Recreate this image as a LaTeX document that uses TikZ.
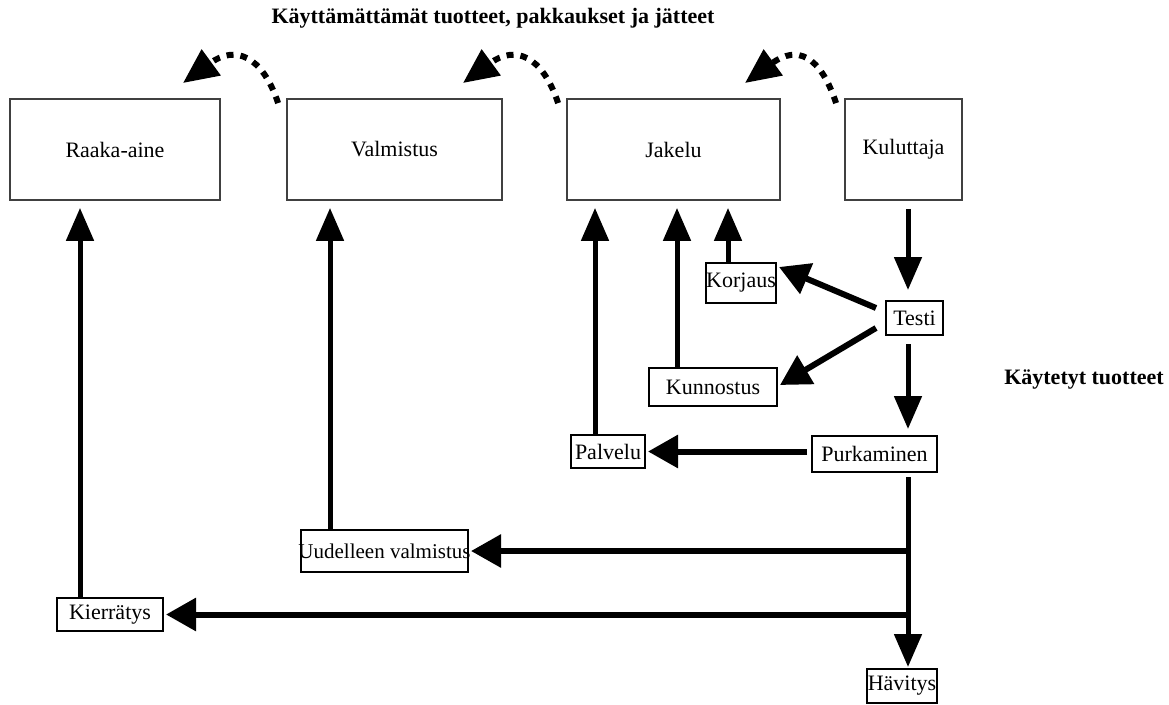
\documentclass[tikz,border=0pt]{standalone}
\usepackage{fontspec}
\setmainfont{Liberation Serif}
\usetikzlibrary{arrows.meta}
\begin{document}
\begin{tikzpicture}[x=1pt,y=-1pt,
  every node/.style={font=\fontsize{22}{24}\selectfont},
  stage/.style={draw=black!75, line width=1.8pt, inner sep=0pt},
  smallbox/.style={draw=black, line width=2pt, inner sep=0pt},
  txt/.style={label={center:#1}},
  flow/.style={line width=5pt, -{Triangle[length=33pt,width=27pt]}},
  flowh/.style={line width=6pt, -{Triangle[length=30pt,width=32pt]}},
  dotarrow/.style={line width=6pt, dash pattern=on 7pt off 7pt,
    -{Triangle[length=35pt,width=31pt]}},
]
\useasboundingbox (0,0) rectangle (1169,704);

% main stages of the chain
\node[stage, minimum width=210pt, minimum height=101pt, txt=Raaka-aine] (raaka) at (115,149.5) {};
\node[stage, minimum width=215pt, minimum height=101pt, txt=Valmistus] (valm) at (394.5,149.5) {};
\node[stage, minimum width=213pt, minimum height=101pt, txt=Jakelu] (jakelu) at (673.5,149.5) {};
\node[stage, minimum width=117pt, minimum height=101pt, txt=Kuluttaja] (kulut) at (903.5,149.5) {};

% return flow steps
\node[smallbox, minimum width=70pt, minimum height=40pt, txt=Korjaus] (korjaus) at (741,283) {};
\node[smallbox, minimum width=57pt, minimum height=34pt, txt=Testi] (testi) at (914.5,318) {};
\node[smallbox, minimum width=128pt, minimum height=38pt, txt=Kunnostus] (kunnostus) at (713,387) {};
\node[smallbox, minimum width=74pt, minimum height=33pt, txt=Palvelu] (palvelu) at (608,451.5) {};
\node[smallbox, minimum width=125pt, minimum height=36pt, txt=Purkaminen] (purk) at (874.5,454) {};
\node[smallbox, minimum width=167pt, minimum height=42pt,
  label={[font=\fontsize{21}{23}\selectfont]center:Uudelleen valmistus}] (uud) at (384.5,551) {};
\node[smallbox, minimum width=106pt, minimum height=33pt, txt=Kierrätys] (kierr) at (110,614.5) {};
\node[smallbox, minimum width=70pt, minimum height=34pt, txt=Hävitys] (havitys) at (902,686) {};

% captions
\node[font=\fontsize{22}{24}\selectfont\bfseries] (unused) at (493,18) {Käyttämättämät tuotteet, pakkaukset ja jätteet};
\node[font=\fontsize{22}{24}\selectfont\bfseries] (used) at (1084,380) {Käytetyt tuotteet};

% columns of the vertical connectors
\coordinate (colA) at (80,0);
\coordinate (colB) at (330,0);
\coordinate (colC) at (595,0);
\coordinate (colD) at (677,0);
\coordinate (colE) at (728,0);
\coordinate (spine) at (908,0);

% tips of the curved return arrows
\coordinate (w1) at (183,83);
\coordinate (w2) at (463,83);
\coordinate (w3) at (745,83);

% unused products, packaging and waste
\draw[dotarrow] ([shift={(-8,5)}]valm.north west) .. controls +(-16,-48) and +(52,-38) .. (w1);
\draw[dotarrow] ([shift={(-8,5)}]jakelu.north west) .. controls +(-16,-48) and +(52,-38) .. (w2);
\draw[dotarrow] ([shift={(-8,5)}]kulut.north west) .. controls +(-16,-48) and +(52,-38) .. (w3);

% flows back up to the stages
\draw[flow, shorten >=7pt] (kierr.north -| colA) -- (raaka.south -| colA);
\draw[flow, shorten >=7pt] (uud.north -| colB) -- (valm.south -| colB);
\draw[flow, shorten >=7pt] (palvelu.north -| colC) -- (jakelu.south -| colC);
\draw[flow, shorten >=7pt] (kunnostus.north -| colD) -- (jakelu.south -| colD);
\draw[flow, shorten >=7pt] (korjaus.north -| colE) -- (jakelu.south -| colE);

% used products
\draw[flow, shorten <=8pt, shorten >=10pt] (kulut.south -| spine) -- (testi.north -| spine);
\draw[flowh] ([shift={(-9,-10)}]testi.west) -- ([shift={(2,-16)}]korjaus.east);
\draw[flowh] ([shift={(-9,10)}]testi.west) -- ([shift={(2,-2)}]kunnostus.east);
\draw[flow, shorten <=8pt, shorten >=6pt] (testi.south -| spine) -- (purk.north -| spine);
\draw[flowh, shorten <=4pt, shorten >=2pt] (purk.west |- palvelu.east) -- (palvelu.east);
\draw[flow, shorten <=4pt, shorten >=1pt] (purk.south -| spine) -- (havitys.north -| spine);
\draw[flowh, shorten >=2pt] (spine |- uud.east) -- (uud.east);
\draw[flowh, shorten >=2pt] (spine |- kierr.east) -- (kierr.east);
\end{tikzpicture}
\end{document}
